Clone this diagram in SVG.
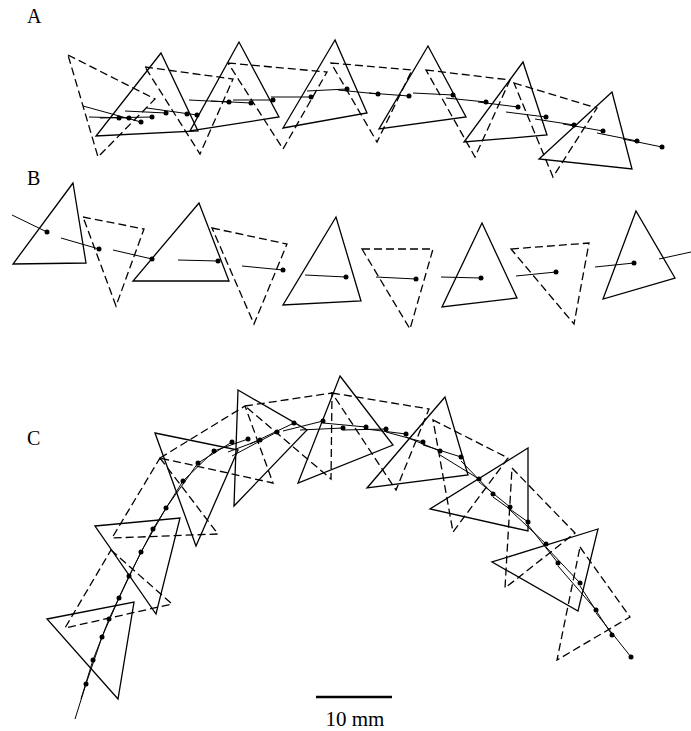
<svg xmlns="http://www.w3.org/2000/svg" width="691" height="731" viewBox="0 0 691 731">
<style>
.s{fill:none;stroke:#000;stroke-width:1.3;stroke-linejoin:miter}
.d{fill:none;stroke:#000;stroke-width:1.3;stroke-dasharray:8,4}
.h{fill:none;stroke:#000;stroke-width:1}
.p{fill:#000}
.lbl{font-family:"Liberation Serif","Times New Roman",serif;font-size:20px;fill:#000}
.sc{font-family:"Liberation Serif","Times New Roman",serif;font-size:21px;fill:#000}
</style>
<rect width="691" height="731" fill="#fff"/>
<g id="panelA">
<text class="lbl" x="27" y="23">A</text>
<g id="A-dashed">
<polygon class="d" points="68,55 155,99 98,157"/>
<polygon class="d" points="145,67 233,79 200,154"/>
<polygon class="d" points="228,63 327,72 283,149"/>
<polygon class="d" points="331,63 412,70 377,142"/>
<polygon class="d" points="426,70 510,80 475,157"/>
<polygon class="d" points="514,83 597,108 553,177"/>
</g>
<g id="A-solid">
<polygon class="s" points="161,53 96,136 198,131"/>
<polygon class="s" points="239,42 190,131 279,117"/>
<polygon class="s" points="335,40 283,128 367,113"/>
<polygon class="s" points="428,46 379,129 466,117"/>
<polygon class="s" points="523,62 464,142 547,135"/>
<polygon class="s" points="612,92 539,159 632,169"/>
</g>
<g id="A-lines">
<path class="h" d="M83,106L141,122M89,117L129,118M100,118L152,117M125,111L166,113M147,108L197,115M189,100L229,102M211,101L251,103M233,100L273,100M271,97L311,97M307,91L347,89M338,90L378,94M369,93L409,96M413,93L453,95M446,98L486,102M478,102L518,107M506,112L546,117M535,119L574,125M563,124L603,131M597,133L637,141M623,139L662,147"/>
</g>
<g id="A-dots">
<circle class="p" cx="119" cy="118" r="2.5"/><circle class="p" cx="129" cy="118" r="2.5"/><circle class="p" cx="141" cy="122" r="2.5"/><circle class="p" cx="152" cy="117" r="2.5"/><circle class="p" cx="166" cy="113" r="2.5"/><circle class="p" cx="187" cy="114" r="2.5"/><circle class="p" cx="197" cy="115" r="2.5"/><circle class="p" cx="229" cy="102" r="2.5"/><circle class="p" cx="251" cy="103" r="2.5"/><circle class="p" cx="273" cy="100" r="2.5"/><circle class="p" cx="311" cy="97" r="2.5"/><circle class="p" cx="347" cy="89" r="2.5"/><circle class="p" cx="378" cy="94" r="2.5"/><circle class="p" cx="409" cy="96" r="2.5"/><circle class="p" cx="453" cy="95" r="2.5"/><circle class="p" cx="486" cy="102" r="2.5"/><circle class="p" cx="518" cy="107" r="2.5"/><circle class="p" cx="546" cy="117" r="2.5"/><circle class="p" cx="574" cy="125" r="2.5"/><circle class="p" cx="603" cy="131" r="2.5"/><circle class="p" cx="637" cy="141" r="2.5"/><circle class="p" cx="662" cy="147" r="2.5"/>
</g>
</g>
<g id="panelB">
<text class="lbl" x="27" y="185">B</text>
<g id="B-solid">
<polygon class="s" points="73,183 13,264 86,263"/>
<polygon class="s" points="199,203 133,281 229,281"/>
<polygon class="s" points="336,217 283,305 361,301"/>
<polygon class="s" points="482,223 442,307 517,298"/>
<polygon class="s" points="636,211 603,299 675,278"/>
</g>
<g id="B-dashed">
<polygon class="d" points="83,217 144,229 116,306"/>
<polygon class="d" points="212,228 287,244 254,324"/>
<polygon class="d" points="362,249 433,249 410,329"/>
<polygon class="d" points="511,249 589,243 574,324"/>
</g>
<g id="B-lines">
<path class="h" d="M12,215L47,232M61,238L99,249M113,250L152,259M178,260L218,261M242,266L283,270M305,275L346,277M376,277L416,279M441,277L481,278M516,276L556,272M595,267L634,263M659,259L691,252"/>
</g>
<g id="B-dots">
<circle class="p" cx="47" cy="232" r="2.5"/><circle class="p" cx="99" cy="249" r="2.5"/><circle class="p" cx="152" cy="259" r="2.5"/><circle class="p" cx="218" cy="261" r="2.5"/><circle class="p" cx="283" cy="270" r="2.5"/><circle class="p" cx="346" cy="277" r="2.5"/><circle class="p" cx="416" cy="279" r="2.5"/><circle class="p" cx="481" cy="278" r="2.5"/><circle class="p" cx="556" cy="272" r="2.5"/><circle class="p" cx="634" cy="263" r="2.5"/>
</g>
</g>
<g id="panelC">
<text class="lbl" x="27" y="445">C</text>
<g id="C-dashed">
<polygon class="d" points="111,550 172,604 65,628"/>
<polygon class="d" points="160,458 218,534 112,538"/>
<polygon class="d" points="160,458 245,406 273,483"/>
<polygon class="d" points="245,406 332,393 331,479"/>
<polygon class="d" points="332,393 429,409 396,490"/>
<polygon class="d" points="433,420 508,458 453,532"/>
<polygon class="d" points="512,468 575,533 505,588"/>
<polygon class="d" points="580,547 630,617 557,660"/>
</g>
<g id="C-solid">
<polygon class="s" points="47,619 134,602 118,699"/>
<polygon class="s" points="95,526 180,518 156,614"/>
<polygon class="s" points="155,433 238,450 196,546"/>
<polygon class="s" points="238,390 307,430 234,506"/>
<polygon class="s" points="340,376 393,445 298,483"/>
<polygon class="s" points="445,397 367,488 468,475"/>
<polygon class="s" points="528,448 430,509 528,531"/>
<polygon class="s" points="598,529 492,562 578,611"/>
</g>
<g id="C-lines">
<path class="h" d="M75,719L86,684M81,699L93,660M86,684L102,637M93,660L109,619M102,637L119,598M109,619L129,576M119,598L141,552M129,576L153,529M141,552L166,508M153,529L183,481M166,508L198,463M183,481L214,451M198,463L232,442M214,451L248,439M228,452L260,440M232,456L277,432M250,444L294,423M283,431L323,421M300,430L343,428M323,423L366,427M343,430L386,429M366,429L406,434M386,432L423,442M406,437L440,451M423,445L461,457M440,455L479,479M461,461L493,494M479,482L510,507M493,497L528,522M510,510L546,544M528,525L558,563M546,547L580,583M558,566L596,610M580,586L612,635M596,613L631,657"/>
</g>
<g id="C-dots">
<circle class="p" cx="86" cy="684" r="2.5"/><circle class="p" cx="93" cy="660" r="2.5"/><circle class="p" cx="102" cy="637" r="2.5"/><circle class="p" cx="109" cy="619" r="2.5"/><circle class="p" cx="119" cy="598" r="2.5"/><circle class="p" cx="129" cy="576" r="2.5"/><circle class="p" cx="141" cy="552" r="2.5"/><circle class="p" cx="153" cy="529" r="2.5"/><circle class="p" cx="166" cy="508" r="2.5"/><circle class="p" cx="183" cy="481" r="2.5"/><circle class="p" cx="198" cy="463" r="2.5"/><circle class="p" cx="214" cy="451" r="2.5"/><circle class="p" cx="232" cy="442" r="2.5"/><circle class="p" cx="248" cy="439" r="2.5"/><circle class="p" cx="260" cy="440" r="2.5"/><circle class="p" cx="277" cy="432" r="2.5"/><circle class="p" cx="294" cy="423" r="2.5"/><circle class="p" cx="323" cy="421" r="2.5"/><circle class="p" cx="343" cy="428" r="2.5"/><circle class="p" cx="366" cy="427" r="2.5"/><circle class="p" cx="386" cy="429" r="2.5"/><circle class="p" cx="406" cy="434" r="2.5"/><circle class="p" cx="423" cy="442" r="2.5"/><circle class="p" cx="440" cy="451" r="2.5"/><circle class="p" cx="461" cy="457" r="2.5"/><circle class="p" cx="479" cy="479" r="2.5"/><circle class="p" cx="493" cy="494" r="2.5"/><circle class="p" cx="510" cy="507" r="2.5"/><circle class="p" cx="528" cy="522" r="2.5"/><circle class="p" cx="546" cy="544" r="2.5"/><circle class="p" cx="558" cy="563" r="2.5"/><circle class="p" cx="580" cy="583" r="2.5"/><circle class="p" cx="596" cy="610" r="2.5"/><circle class="p" cx="612" cy="635" r="2.5"/><circle class="p" cx="631" cy="657" r="2.5"/>
</g>
</g>
<g id="scalebar">
<line x1="316" y1="697" x2="392" y2="697" stroke="#000" stroke-width="2.5"/>
<text class="sc" x="355" y="726" text-anchor="middle">10 mm</text>
</g>
</svg>
